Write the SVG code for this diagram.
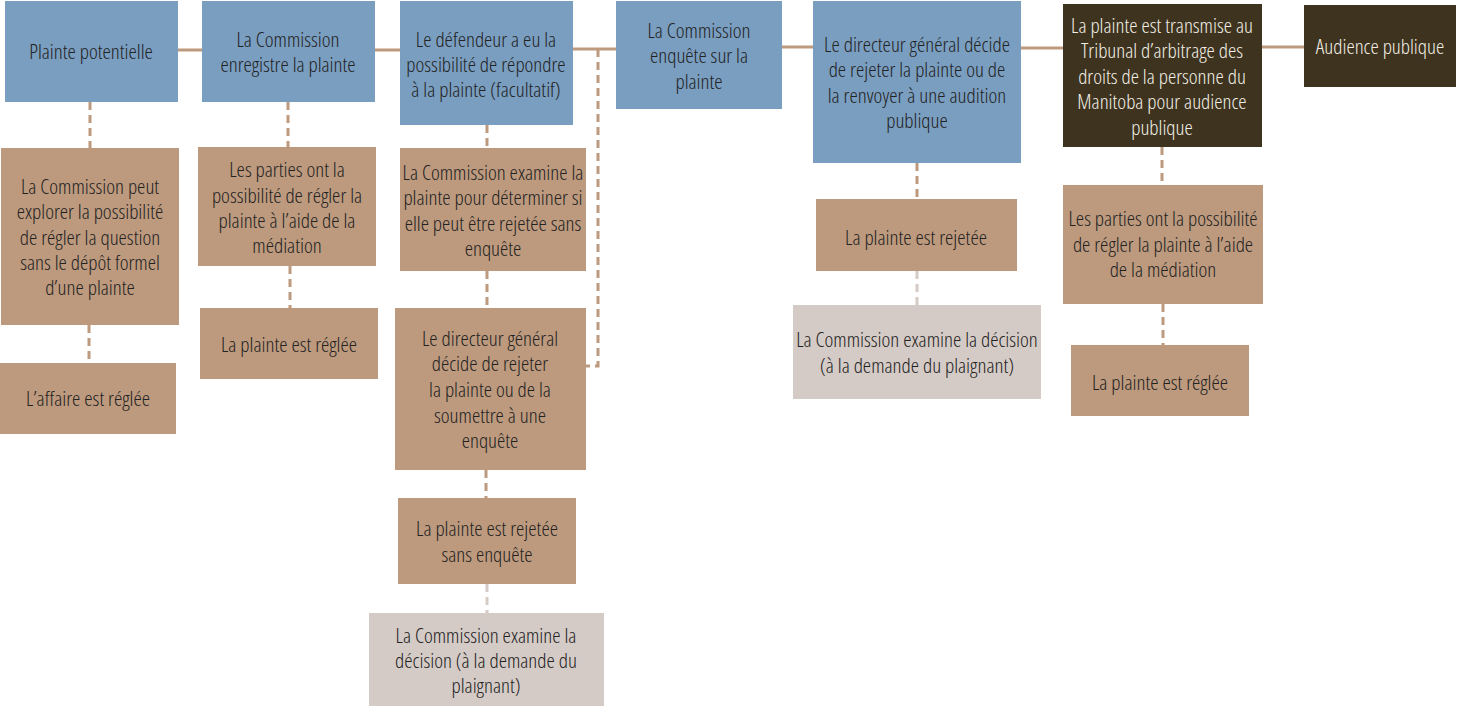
<svg xmlns="http://www.w3.org/2000/svg" width="1457" height="707" viewBox="0 0 1457 707">
<style>
text{font-family:"Open Sans","Liberation Sans",sans-serif;font-stretch:condensed;font-weight:300;font-size:21px;fill:#222;text-anchor:middle}
.blue{fill:#7a9ec0}
.tan{fill:#bd9a7e}
.light{fill:#d5cbc6}
.dark{fill:#3d331e}
.w{fill:#f3efe6}
.solid{stroke:#bd9a7e;stroke-width:3;fill:none}
.dash{stroke:#bd9a7e;stroke-width:3;fill:none;stroke-dasharray:8 5}
.dashl{stroke:#d5cbc6;stroke-width:3;fill:none;stroke-dasharray:8 5}
</style>
<g id="connectors">
<path class="solid" d="M178 50H202M375 50H400M573 49H616M782 47H813M1021 48H1063M1262 47H1304"/>
<path class="dash" d="M90 102V148M89 325V363M288 102V147M290 266V308M487 125V148M487 271V308M486 470V498M598 49V366H586M917 163V199M1162 147V185M1163 304V345"/>
<path class="dashl" d="M487 584V613M917 271V305"/>
</g>
<g id="n1"><rect class="blue" x="5" y="1" width="173" height="101"/><text x="91" y="59">Plainte potentielle</text></g>
<g id="n2"><rect class="blue" x="202" y="1" width="173" height="101"/><text x="288" y="47">La Commission</text><text x="288" y="72">enregistre la plainte</text></g>
<g id="n3"><rect class="blue" x="400" y="1" width="173" height="124"/><text x="486" y="47">Le défendeur a eu la</text><text x="486" y="72">possibilité de répondre</text><text x="486" y="97">à la plainte (facultatif)</text></g>
<g id="n4"><rect class="blue" x="616" y="1" width="166" height="108"/><text x="699" y="38">La Commission</text><text x="699" y="63">enquête sur la</text><text x="699" y="89">plainte</text></g>
<g id="n5"><rect class="blue" x="813" y="1" width="208" height="162"/><text x="917" y="52">Le directeur général décide</text><text x="917" y="77">de rejeter la plainte ou de</text><text x="917" y="103">la renvoyer à une audition</text><text x="917" y="128">publique</text></g>
<g id="n6"><rect class="dark" x="1063" y="4" width="199" height="143"/><text class="w" x="1162" y="33">La plainte est transmise au</text><text class="w" x="1162" y="58">Tribunal d’arbitrage des</text><text class="w" x="1162" y="84">droits de la personne du</text><text class="w" x="1162" y="109">Manitoba pour audience</text><text class="w" x="1162" y="135">publique</text></g>
<g id="n7"><rect class="dark" x="1304" y="5" width="152" height="82"/><text class="w" x="1380" y="54">Audience publique</text></g>
<g id="n8"><rect class="tan" x="1" y="148" width="178" height="177"/><text x="90" y="194">La Commission peut</text><text x="90" y="219">explorer la possibilité</text><text x="90" y="245">de régler la question</text><text x="90" y="270">sans le dépôt formel</text><text x="90" y="295">d’une plainte</text></g>
<g id="n9"><rect class="tan" x="0" y="363" width="176" height="71"/><text x="88" y="406">L’affaire est réglée</text></g>
<g id="n10"><rect class="tan" x="198" y="147" width="178" height="119"/><text x="287" y="177">Les parties ont la</text><text x="287" y="203">possibilité de régler la</text><text x="287" y="228">plainte à l’aide de la</text><text x="287" y="253">médiation</text></g>
<g id="n11"><rect class="tan" x="200" y="308" width="178" height="71"/><text x="289" y="352">La plainte est réglée</text></g>
<g id="n12"><rect class="tan" x="400" y="148" width="186" height="123"/><text x="493" y="180">La Commission examine la</text><text x="493" y="205">plainte pour déterminer si</text><text x="493" y="231">elle peut être rejetée sans</text><text x="493" y="256">enquête</text></g>
<g id="n13"><rect class="tan" x="395" y="308" width="191" height="162"/><text x="490" y="346">Le directeur général</text><text x="490" y="371">décide de rejeter</text><text x="490" y="397">la plainte ou de la</text><text x="490" y="423">soumettre à une</text><text x="490" y="448">enquête</text></g>
<g id="n14"><rect class="tan" x="398" y="498" width="178" height="86"/><text x="487" y="536">La plainte est rejetée</text><text x="487" y="562">sans enquête</text></g>
<g id="n15"><rect class="light" x="369" y="613" width="235" height="93"/><text x="486" y="643">La Commission examine la</text><text x="486" y="668">décision (à la demande du</text><text x="486" y="693">plaignant)</text></g>
<g id="n16"><rect class="tan" x="816" y="199" width="201" height="72"/><text x="916" y="245">La plainte est rejetée</text></g>
<g id="n17"><rect class="light" x="793" y="305" width="248" height="94"/><text x="917" y="347">La Commission examine la décision</text><text x="917" y="373">(à la demande du plaignant)</text></g>
<g id="n18"><rect class="tan" x="1063" y="185" width="200" height="119"/><text x="1163" y="226">Les parties ont la possibilité</text><text x="1163" y="252">de régler la plainte à l’aide</text><text x="1163" y="277">de la médiation</text></g>
<g id="n19"><rect class="tan" x="1071" y="345" width="178" height="71"/><text x="1160" y="390">La plainte est réglée</text></g>
</svg>
